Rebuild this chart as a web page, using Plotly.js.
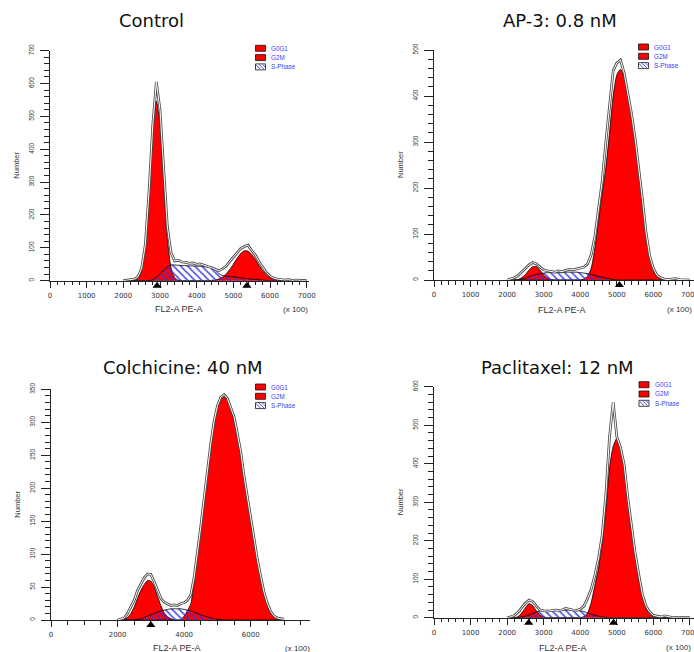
<!DOCTYPE html>
<html><head><meta charset="utf-8">
<script src="https://cdn.plot.ly/plotly-3.0.1.min.js"></script>
<style>html,body{margin:0;padding:0;background:#fff}#chart{width:694px;height:652px}</style>
</head><body><div id="chart"></div>
<script>
// ---------- data ----------
const channels = [2000,2100,2200,2300,2400,2500,2600,2700,2800,2900,3000,3100,3200,3300,3400,3500,3600,3700,3800,3900,4000,4100,4200,4300,4400,4500,4600,4700,4800,4900,5000,5100,5200,5300,5400,5500,5600,5700,5800,5900,6000,6100,6200,6300,6400,6500,6600,6700,6800,6900,7000];

const panelTitles = ['Control', 'AP-3: 0.8 nM', 'Colchicine: 40 nM', 'Paclitaxel: 12 nM'];
const legendLabels = ['G0G1', 'G2M', 'S-Phase'];
const xAxisTitle = 'FL2-A PE-A';
const yAxisTitle = 'Number';
const xScaleNote = '(x 100)';

const xTicks = [0,1000,2000,3000,4000,5000,6000,7000];
const colchXTicks = [0,2000,4000,6000];
const ctrlYTicks = [0,100,200,300,400,500,600,700];
const ap3YTicks = [0,100,200,300,400,500];
const colchYTicks = [0,50,100,150,200,250,300,350];
const pacliYTicks = [0,100,200,300,400,500,600];

// Control
const ctrlG0G1 = [0,0,0,1,6,30,104,256,445,547,476,293,128,40,9,1,0,0,0,0,0,0,0,0,0,0,0,0,0,0,0,0,0,0,0,0,0,0,0,0,0,0,0,0,0,0,0,0,0,0,0];
const ctrlG2M  = [0,0,0,0,0,0,0,0,0,0,0,0,0,0,0,0,0,0,0,0,0,0,0,0,1,2,5,11,20,34,50,68,83,91,90,80,65,47,31,18,9,5,2,1,0,0,0,0,0,0,0];
const ctrlS    = [0,0,0,0,0,0,0,0,3,10,20,32,42,48,48,47,46,46,45,45,44,44,43,42,40,34,22,16,14,13,12,10,9,7,6,5,4,3,2,1,0,0,0,0,0,0,0,0,0,0,0];
const ctrlData = [0,1,2,5,12,38,110,270,470,605,520,330,165,85,60,62,57,56,53,54,50,51,46,43,40,36,30,36,44,58,72,84,98,104,108,92,78,58,40,25,14,8,5,3,2,3,1,2,1,0,0];
const ctrlPeaks = [2920, 5370];

// AP-3: 0.8 nM
const ap3G0G1 = [0,0,0,1,5,12,22,29,29,21,11,4,1,0,0,0,0,0,0,0,0,0,0,0,0,0,0,0,0,0,0,0,0,0,0,0,0,0,0,0,0,0,0,0,0,0,0,0,0,0,0];
const ap3G2M  = [0,0,0,0,0,0,0,0,0,0,0,0,0,0,0,0,0,0,0,0,0,2,8,26,70,130,190,245,320,400,446,458,440,405,358,303,235,165,97,47,20,8,2,0,0,0,0,0,0,0,0];
const ap3S    = [0,0,0,0,2,4,7,10,12,14,15,16,16,16,16,16,17,17,17,17,16,15,14,12,10,8,6,4,3,1,0,0,0,0,0,0,0,0,0,0,0,0,0,0,0,0,0,0,0,0,0];
const ap3Data = [0,2,5,10,18,26,33,38,35,28,22,20,18,17,20,18,21,23,22,24,25,28,35,55,95,150,215,300,380,455,472,478,450,410,362,308,245,175,102,52,25,10,5,2,1,2,3,1,1,0,0];
const ap3Peaks = [5070];

// Colchicine: 40 nM
const colchG0G1 = [0,0,1,4,10,20,33,45,54,60,59,50,36,22,11,5,2,0,0,0,0,0,0,0,0,0,0,0,0,0,0,0,0,0,0,0,0,0,0,0,0,0,0,0,0,0,0,0,0,0,0];
const colchG2M  = [0,0,0,0,0,0,0,0,0,0,0,0,0,0,0,0,0,0,0,0,6,14,25,58,98,138,180,222,262,298,322,335,338,334,320,303,278,250,215,182,150,120,90,64,40,22,11,5,2,0,0];
const colchS    = [0,0,0,0,0,0,1,2,4,6,8,10,12,14,15,16,17,17,17,17,16,15,14,12,10,8,6,5,3,2,1,1,0,0,0,0,0,0,0,0,0,0,0,0,0,0,0,0,0,0,0];
const colchData = [0,1,3,10,20,30,45,55,64,70,69,58,45,33,27,24,22,23,22,25,26,30,38,65,102,142,185,228,268,302,325,338,342,336,322,308,282,255,218,185,152,122,92,66,42,25,13,6,3,2,1];
const colchPeaks = [3000];

// Paclitaxel: 12 nM
const pacliG0G1 = [0,0,0,3,12,26,37,31,18,7,2,0,0,0,0,0,0,0,0,0,0,0,0,0,0,0,0,0,0,0,0,0,0,0,0,0,0,0,0,0,0,0,0,0,0,0,0,0,0,0,0];
const pacliG2M  = [0,0,0,0,0,0,0,0,0,0,0,0,0,0,0,0,0,0,0,0,0,3,12,40,85,130,195,280,390,445,466,440,395,305,228,160,102,53,25,10,3,0,0,0,0,0,0,0,0,0,0];
const pacliS    = [0,0,0,0,2,4,7,11,15,18,19,19,19,19,20,20,20,20,20,19,18,16,12,9,6,4,2,1,0,0,0,0,0,0,0,0,0,0,0,0,0,0,0,0,0,0,0,0,0,0,0];
const pacliData = [0,2,6,14,26,38,46,42,30,20,18,17,18,20,19,20,24,21,20,19,22,30,50,75,110,155,215,320,470,560,470,442,398,312,232,168,112,60,30,14,6,3,2,5,2,1,0,0,0,0,0];
const pacliPeaks = [2590, 4910];

// ---------- layout geometry (pixels) ----------
const W = 694, H = 652;
const fx = p => p / W;
const fy = p => 1 - p / H;

const panels = [
  {title: panelTitles[0], g0: ctrlG0G1, g2: ctrlG2M, s: ctrlS, d: ctrlData, peaks: ctrlPeaks, xt: xTicks, yt: ctrlYTicks,
   x0: 50, x1: 309, xmax: 7063, yTop: 50.7, yBot: 280.7, ymax: 700, xminor: 200, yminor: 20,
   titleX: 151.5, titleY: 20.7, numX: 17, flX: 179, flY: 309, noteX: 295, legL: 255.5, legT: 45.3},
  {title: panelTitles[1], g0: ap3G0G1, g2: ap3G2M, s: ap3S, d: ap3Data, peaks: ap3Peaks, xt: xTicks, yt: ap3YTicks,
   x0: 434, x1: 694, xmax: 7110, yTop: 50, yBot: 280, ymax: 500, xminor: 200, yminor: 20,
   titleX: 560, titleY: 20.7, numX: 400, flX: 562, flY: 309.5, noteX: 679, legL: 638.5, legT: 44},
  {title: panelTitles[2], g0: colchG0G1, g2: colchG2M, s: colchS, d: colchData, peaks: colchPeaks, xt: colchXTicks, yt: colchYTicks,
   x0: 51, x1: 310, xmax: 7780, yTop: 389.3, yBot: 620, ymax: 350, xminor: 500, yminor: 10,
   titleX: 183, titleY: 367.5, numX: 18, flX: 177, flY: 648, noteX: 297, legL: 255.5, legT: 384},
  {title: panelTitles[3], g0: pacliG0G1, g2: pacliG2M, s: pacliS, d: pacliData, peaks: pacliPeaks, xt: xTicks, yt: pacliYTicks,
   x0: 434, x1: 694, xmax: 7110, yTop: 386.7, yBot: 617.7, ymax: 600, xminor: 200, yminor: 20,
   titleX: 557, titleY: 367.5, numX: 400, flX: 563, flY: 647.5, noteX: 678, legL: 639, legT: 381.7}
];

const RED = '#ff0000';
const HATCH = '#3232e6';
const AXC = '#222';
const traces = [];
const layout = {
  width: W, height: H, margin: {l: 0, r: 0, t: 0, b: 0},
  paper_bgcolor: '#fff', plot_bgcolor: 'rgba(0,0,0,0)',
  showlegend: false, hovermode: false,
  annotations: [], shapes: []
};

panels.forEach((p, i) => {
  const n = i === 0 ? '' : String(i + 1);
  const xr = 'x' + n, yr = 'y' + n;
  const mk = String(i + 5);   // hidden strip axis just under the x axis for the peak markers
  const common = {x: channels, xaxis: xr, yaxis: yr, type: 'scatter', mode: 'lines', hoverinfo: 'skip'};

  traces.push(Object.assign({}, common, {y: p.g0, name: legendLabels[0], fill: 'tozeroy', fillcolor: RED,
    line: {color: '#000', width: 0.8, shape: 'spline', smoothing: 0.6}}));
  traces.push(Object.assign({}, common, {y: p.g2, name: legendLabels[1], fill: 'tozeroy', fillcolor: RED,
    line: {color: '#000', width: 0.8, shape: 'spline', smoothing: 0.6}}));
  traces.push(Object.assign({}, common, {y: p.s, name: legendLabels[2], fill: 'tozeroy', fillcolor: 'rgba(0,0,0,0)',
    fillpattern: {shape: '\\', fgcolor: HATCH, bgcolor: 'rgba(0,0,0,0)', size: 5, solidity: 0.3, fgopacity: 0.9},
    line: {color: '#000', width: 0.8, shape: 'spline', smoothing: 0.6}}));
  traces.push(Object.assign({}, common, {y: p.d, name: 'data', line: {color: '#4a4a4a', width: 2.7}}));
  traces.push(Object.assign({}, common, {y: p.d, name: 'data', line: {color: '#fff', width: 1.0}}));
  traces.push({x: p.peaks, y: p.peaks.map(() => 0.5), xaxis: xr, yaxis: 'y' + mk, type: 'scatter', mode: 'markers',
    marker: {symbol: 'triangle-up', size: 8, color: '#000'}, cliponaxis: false, hoverinfo: 'skip'});

  layout['xaxis' + n] = {
    domain: [fx(p.x0), fx(p.x1)], range: [0, p.xmax], anchor: yr,
    showline: true, linecolor: AXC, linewidth: 1, showgrid: false, zeroline: false,
    ticks: 'outside', ticklen: 6, tickwidth: 1, tickcolor: AXC,
    tickmode: 'array', tickvals: p.xt, ticktext: p.xt.map(String), ticklabeloverflow: 'allow',
    tickfont: {family: 'DejaVu Sans', size: 7, color: '#333'}, ticklabelstandoff: 2,
    minor: {tickmode: 'linear', tick0: 0, dtick: p.xminor, ticks: 'outside', ticklen: 3.5, tickcolor: AXC, tickwidth: 1, showgrid: false},
    fixedrange: true
  };
  layout['yaxis' + n] = {
    domain: [fy(p.yBot), fy(p.yTop)], range: [0, p.ymax], anchor: xr,
    showline: true, linecolor: AXC, linewidth: 1, showgrid: false, zeroline: false,
    ticks: 'outside', ticklen: 9, tickwidth: 1, tickcolor: AXC,
    tickmode: 'array', tickvals: p.yt, ticktext: p.yt.map(String), tickangle: -90,
    tickfont: {family: 'Liberation Sans', size: 6.5, color: '#333'}, ticklabelstandoff: 3,
    minor: {tickmode: 'linear', tick0: 0, dtick: p.yminor, ticks: 'outside', ticklen: 5, tickcolor: AXC, tickwidth: 1, showgrid: false},
    fixedrange: true
  };
  layout['yaxis' + mk] = {
    domain: [fy(p.yBot + 10), fy(p.yBot)], range: [0, 1], anchor: xr, visible: false, fixedrange: true
  };

  const A = layout.annotations;
  A.push({text: p.title, xref: 'paper', yref: 'paper', x: fx(p.titleX), y: fy(p.titleY), xanchor: 'center', yanchor: 'middle',
    showarrow: false, font: {family: 'DejaVu Sans', size: 18, color: '#111'}});
  A.push({text: yAxisTitle, xref: 'paper', yref: 'paper', x: fx(p.numX), y: fy((p.yTop + p.yBot) / 2), xanchor: 'center', yanchor: 'middle',
    textangle: -90, showarrow: false, font: {family: 'Liberation Sans', size: 7.5, color: '#333'}});
  A.push({text: xAxisTitle, xref: 'paper', yref: 'paper', x: fx(p.flX), y: fy(p.flY), xanchor: 'center', yanchor: 'middle',
    showarrow: false, font: {family: 'Liberation Sans', size: 9, color: '#333'}});
  A.push({text: xScaleNote, xref: 'paper', yref: 'paper', x: fx(p.noteX), y: fy(p.flY), xanchor: 'center', yanchor: 'middle',
    showarrow: false, font: {family: 'Liberation Sans', size: 8, color: '#333'}});

  // legend swatches
  const S = layout.shapes;
  for (let k = 0; k < 3; k++) {
    const L = p.legL, T = p.legT + k * 9.3, R = L + 10, B = T + 6;
    S.push({type: 'rect', xref: 'paper', yref: 'paper', x0: fx(L), x1: fx(R), y0: fy(B), y1: fy(T),
      fillcolor: k < 2 ? RED : '#fff', line: {color: '#111', width: 0.8}});
    if (k === 2) {
      const seg = (a, b, c, d) => 'M' + fx(a) + ',' + fy(b) + 'L' + fx(c) + ',' + fy(d);
      S.push({type: 'path', xref: 'paper', yref: 'paper',
        path: seg(L + 0.8, T + 1.2, L + 5, B - 0.6) + seg(L + 3.6, T + 0.6, L + 8.6, B - 0.6) + seg(L + 7.2, T + 0.6, L + 9.4, T + 3),
        line: {color: HATCH, width: 0.9}});
    }
    A.push({text: legendLabels[k], xref: 'paper', yref: 'paper', x: fx(L + 13.8), y: fy(T + 3), xanchor: 'left', yanchor: 'middle',
      showarrow: false, font: {family: 'Liberation Sans', size: 6.3, color: '#3c3cf0'}});
  }
});

Plotly.newPlot('chart', traces, layout, {staticPlot: true, displayModeBar: false});
</script>
</body></html>
